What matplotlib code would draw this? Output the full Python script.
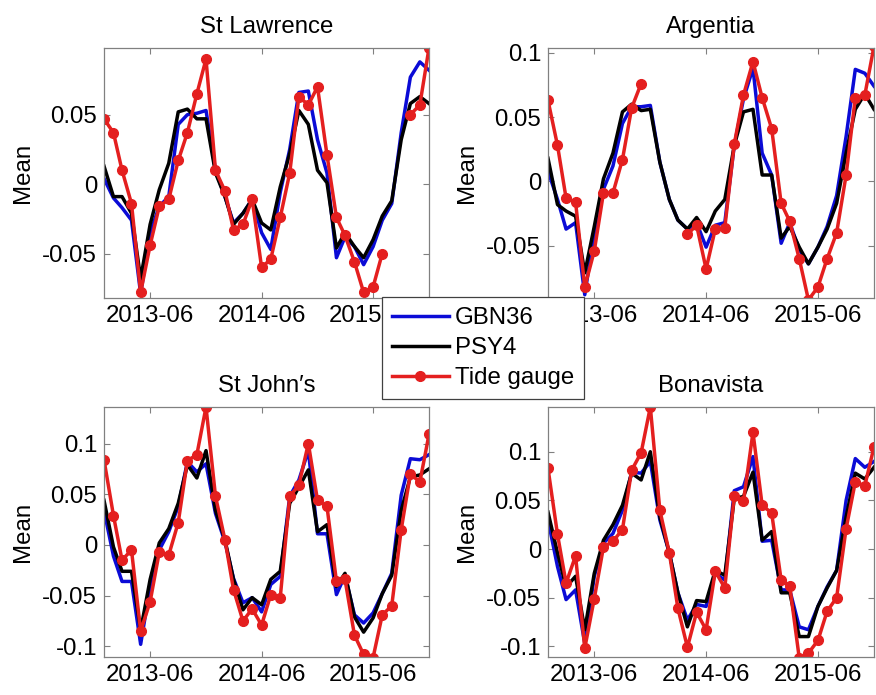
import numpy as np
import pandas as pd
import matplotlib
matplotlib.use("Agg")
import matplotlib.pyplot as plt
import matplotlib.dates as mdates

plt.rcParams['font.family'] = ['Liberation Sans', 'DejaVu Sans']

months = pd.date_range("2013-01-01", "2015-12-01", freq="MS")
nan = np.nan

stations = ["St Lawrence", "Argentia", "St John\u2032s", "Bonavista"]

# St Lawrence
sl_gbn = [0.004, -0.010, -0.017, -0.026, -0.079, -0.035, -0.016, -0.009, 0.043, 0.050, 0.051, 0.053,
          0.010, -0.009, -0.028, -0.021, -0.011, -0.035, -0.047, -0.006, 0.025, 0.066, 0.067, 0.032,
          0.008, -0.053, -0.038, -0.045, -0.058, -0.045, -0.026, -0.014, 0.037, 0.077, 0.088, 0.082]
sl_psy = [0.013, -0.009, -0.009, -0.021, -0.068, -0.029, -0.004, 0.015, 0.052, 0.054, 0.047, 0.047,
          0.008, -0.009, -0.029, -0.021, -0.011, -0.028, -0.033, -0.002, 0.022, 0.053, 0.043, 0.010,
          0.001, -0.046, -0.035, -0.045, -0.053, -0.040, -0.023, -0.012, 0.032, 0.058, 0.063, 0.058]
sl_tg = [0.047, 0.037, 0.010, -0.014, -0.078, -0.044, -0.016, -0.011, 0.017, 0.037, 0.065, 0.090,
         0.010, -0.005, -0.033, -0.029, -0.011, -0.060, -0.054, -0.024, 0.008, 0.063, 0.057, 0.070,
         0.021, -0.024, -0.037, -0.056, -0.078, -0.074, -0.050, nan, nan, 0.050, 0.057, 0.098]

# Argentia
ar_gbn = [0.008, -0.014, -0.037, -0.032, -0.088, -0.040, -0.006, 0.012, 0.045, 0.058, 0.058, 0.059,
          0.015, -0.014, -0.030, -0.037, -0.032, -0.051, -0.034, -0.032, 0.028, 0.064, 0.088, 0.022,
          0.005, -0.048, -0.032, -0.053, -0.064, -0.051, -0.035, -0.011, 0.035, 0.087, 0.084, 0.074]
ar_psy = [0.018, -0.018, -0.023, -0.027, -0.071, -0.035, 0.002, 0.022, 0.054, 0.060, 0.055, 0.056,
          0.015, -0.014, -0.030, -0.037, -0.028, -0.039, -0.023, -0.014, 0.028, 0.054, 0.056, 0.005,
          0.005, -0.044, -0.035, -0.051, -0.064, -0.051, -0.037, -0.017, 0.022, 0.056, 0.068, 0.056]
ar_tg = [0.063, 0.028, -0.013, -0.016, -0.082, -0.054, -0.009, -0.009, 0.017, 0.057, 0.076, nan,
         nan, nan, nan, -0.041, -0.034, -0.068, -0.037, -0.036, 0.029, 0.067, 0.093, 0.065,
         0.041, -0.017, -0.031, -0.060, -0.092, -0.082, -0.060, -0.040, 0.005, 0.065, 0.067, 0.105]

# St John's
sj_gbn = [0.034, -0.011, -0.036, -0.036, -0.098, -0.041, -0.005, 0.013, 0.038, 0.082, 0.072, 0.080,
          0.031, 0.003, -0.033, -0.057, -0.052, -0.066, -0.039, -0.031, 0.048, 0.064, 0.093, 0.011,
          0.011, -0.049, -0.030, -0.069, -0.077, -0.067, -0.048, -0.028, 0.049, 0.085, 0.084, 0.089]
sj_psy = [0.044, -0.002, -0.026, -0.026, -0.084, -0.034, 0.002, 0.016, 0.041, 0.079, 0.066, 0.093,
          0.034, 0.005, -0.034, -0.064, -0.052, -0.059, -0.034, -0.026, 0.041, 0.057, 0.074, 0.013,
          0.020, -0.041, -0.028, -0.071, -0.086, -0.072, -0.048, -0.030, 0.034, 0.067, 0.069, 0.075]
sj_tg = [0.084, 0.029, -0.015, -0.005, -0.085, -0.056, -0.007, -0.010, 0.022, 0.083, 0.089, 0.136,
         0.048, 0.005, -0.044, -0.075, -0.063, -0.079, -0.049, -0.052, 0.048, 0.059, 0.100, 0.044,
         0.038, -0.036, -0.034, -0.089, -0.108, -0.111, -0.069, -0.060, 0.015, 0.070, 0.062, 0.109]

# Bonavista
bo_gbn = [0.030, -0.018, -0.052, -0.042, -0.097, -0.028, 0.006, 0.016, 0.040, 0.079, 0.078, 0.090,
          0.030, -0.004, -0.045, -0.073, -0.057, -0.059, -0.025, -0.032, 0.060, 0.064, 0.095, 0.008,
          0.009, -0.042, -0.042, -0.080, -0.083, -0.059, -0.039, -0.022, 0.050, 0.093, 0.084, 0.090]
bo_psy = [0.038, -0.004, -0.039, -0.028, -0.083, -0.025, 0.009, 0.025, 0.045, 0.078, 0.071, 0.100,
          0.033, -0.004, -0.045, -0.080, -0.053, -0.054, -0.022, -0.027, 0.052, 0.054, 0.079, 0.009,
          0.018, -0.045, -0.045, -0.090, -0.090, -0.059, -0.040, -0.022, 0.033, 0.078, 0.072, 0.084]
bo_tg = [0.083, 0.015, -0.035, -0.007, -0.102, -0.051, 0.002, 0.008, 0.020, 0.081, 0.099, 0.146,
         0.040, -0.004, -0.061, -0.101, -0.065, -0.083, -0.023, -0.040, 0.055, 0.049, 0.120, 0.045,
         0.037, -0.032, -0.038, -0.112, -0.107, -0.094, -0.064, -0.050, 0.021, 0.069, 0.065, 0.105]

gbn = [sl_gbn, ar_gbn, sj_gbn, bo_gbn]
psy = [sl_psy, ar_psy, sj_psy, bo_psy]
tg = [sl_tg, ar_tg, sj_tg, bo_tg]

ylims = [(-0.082, 0.098), (-0.0905, 0.1036), (-0.1105, 0.136), (-0.111, 0.146)]
yticks = [[-0.05, 0, 0.05], [-0.05, 0, 0.05, 0.1],
          [-0.1, -0.05, 0, 0.05, 0.1], [-0.1, -0.05, 0, 0.05, 0.1]]
ytlabels = [["-0.05", "0", "0.05"], ["-0.05", "0", "0.05", "0.1"],
            ["-0.1", "-0.05", "0", "0.05", "0.1"], ["-0.1", "-0.05", "0", "0.05", "0.1"]]
xticks = pd.to_datetime(["2013-06-01", "2014-06-01", "2015-06-01"])
xtlabels = ["2013-06", "2014-06", "2015-06"]

W, H = 876, 695
fig = plt.figure(figsize=(W / 100, H / 100), dpi=100)

boxes = [(104, 48, 429, 298), (548, 48, 874, 298), (104, 407, 429, 657), (548, 407, 874, 657)]
FS = 17.3
BLUE = "#0b0bd6"
BLACK = "#000000"
RED = "#e41f1f"

handles = None
for i, (x0, y0, x1, y1) in enumerate(boxes):
    ax = fig.add_axes([x0 / W, 1 - y1 / H, (x1 - x0) / W, (y1 - y0) / H])
    l1, = ax.plot(months, gbn[i], color=BLUE, lw=2.5, label="GBN36")
    l2, = ax.plot(months, psy[i], color=BLACK, lw=2.5, label="PSY4")
    l3, = ax.plot(months, tg[i], color=RED, lw=2.5, marker="o", ms=7, label="Tide gauge")
    handles = [l1, l2, l3]
    ax.set_xlim(months[0], months[-1])
    ax.set_ylim(*ylims[i])
    ax.set_xticks(xticks)
    ax.set_xticklabels(xtlabels, fontsize=FS)
    ax.set_yticks(yticks[i])
    ax.set_yticklabels(ytlabels[i], fontsize=FS)
    ax.tick_params(direction="in", top=True, right=True, length=4, width=0.8,
                   color="#808080", pad=5)
    for s in ax.spines.values():
        s.set_color("#808080")
        s.set_linewidth(0.9)
    ax.set_ylabel("Mean", fontsize=FS, labelpad=6)
    ax.set_title(stations[i], fontsize=FS, pad=11)

leg = fig.legend(handles=handles, loc="center", bbox_to_anchor=(483 / W, 1 - 348 / H),
                 fontsize=FS, frameon=True, fancybox=False, edgecolor="#404040",
                 handlelength=2.35, handletextpad=0.25, borderpad=0.42, labelspacing=0.33,
                 borderaxespad=0, framealpha=1)
leg.get_frame().set_linewidth(0.9)

fig.savefig("out.png", dpi=100)
